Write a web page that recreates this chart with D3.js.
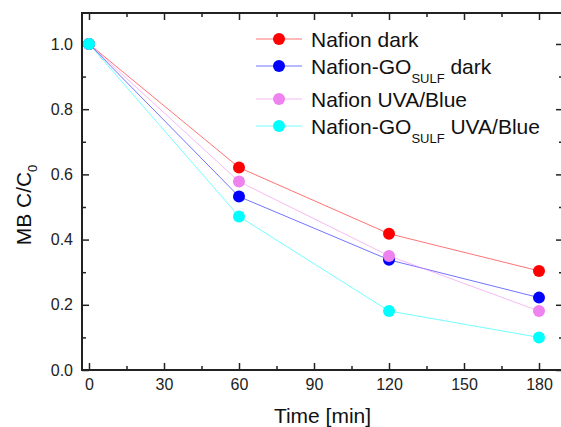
<!DOCTYPE html>
<html lang="en">
<head>
    <meta charset="UTF-8">
    <title>MB C/C0 vs time</title>
    <style>
        body { margin: 0; background: #fff; }
        svg { display: block; font-family: 'Liberation Sans', Arial, sans-serif; }
        .tick text { font-size: 16px; fill: #222; }
        .tick line { stroke: #222; stroke-width: 1.5px; }
        .frame { fill: none; stroke: #222; stroke-width: 2px; }
        .series-line { fill: none; stroke-width: 1px; stroke-opacity: 0.55; }
    </style>
</head>
<body>
<svg id="chart" width="561" height="427"></svg>
<script src="https://cdn.jsdelivr.net/npm/d3@7"></script>
<script>
// data
var times = [0, 60, 120, 180];
var nafionDark = [1.0, 0.621, 0.418, 0.304];
var nafionGoDark = [1.0, 0.532, 0.338, 0.222];
var nafionUva = [1.0, 0.578, 0.350, 0.181];
var nafionGoUva = [1.0, 0.471, 0.181, 0.100];
var xTicks = [0, 30, 60, 90, 120, 150, 180];
var yTicks = [0.0, 0.2, 0.4, 0.6, 0.8, 1.0];

var series = [
    { name: 'Nafion', sub: '', tail: ' dark', color: '#ff0000', values: nafionDark },
    { name: 'Nafion-GO', sub: 'SULF', tail: ' dark', color: '#0000ff', values: nafionGoDark },
    { name: 'Nafion', sub: '', tail: ' UVA/Blue', color: '#ee82ee', values: nafionUva },
    { name: 'Nafion-GO', sub: 'SULF', tail: ' UVA/Blue', color: '#00ffff', values: nafionGoUva }
];

var pLeft = 82, pRight = 563, pTop = 13, pBottom = 370;

var svg = d3.select('#chart');

var x = d3.scaleLinear().domain([-2.8, 189.6]).range([pLeft, pRight]);
var y = d3.scaleLinear().domain([0, 1.095]).range([pBottom, pTop]);

var xMinor = d3.range(0, 181, 15).filter(d => xTicks.indexOf(d) < 0);
var yMinor = [0.1, 0.3, 0.5, 0.7, 0.9];

function noDomain(g) { g.select('.domain').remove(); }

// bottom ticks + labels (inward)
svg.append('g')
    .attr('transform', 'translate(0,' + pBottom + ')')
    .call(d3.axisBottom(x).tickValues(xTicks).tickSize(-7).tickPadding(9).tickFormat(d3.format('d')))
    .call(noDomain);
svg.append('g')
    .attr('transform', 'translate(0,' + pBottom + ')')
    .call(d3.axisBottom(x).tickValues(xMinor).tickSize(-4).tickFormat(''))
    .call(noDomain);

// top ticks
svg.append('g')
    .attr('transform', 'translate(0,' + pTop + ')')
    .call(d3.axisTop(x).tickValues(xTicks).tickSize(-7).tickFormat(''))
    .call(noDomain);
svg.append('g')
    .attr('transform', 'translate(0,' + pTop + ')')
    .call(d3.axisTop(x).tickValues(xMinor).tickSize(-4).tickFormat(''))
    .call(noDomain);

// left ticks + labels
svg.append('g')
    .attr('transform', 'translate(' + pLeft + ',0)')
    .call(d3.axisLeft(y).tickValues(yTicks).tickSize(-7).tickPadding(9).tickFormat(d3.format('.1f')))
    .call(noDomain);
svg.append('g')
    .attr('transform', 'translate(' + pLeft + ',0)')
    .call(d3.axisLeft(y).tickValues(yMinor).tickSize(-4).tickFormat(''))
    .call(noDomain);

// right ticks
svg.append('g')
    .attr('transform', 'translate(' + pRight + ',0)')
    .call(d3.axisRight(y).tickValues(yTicks).tickSize(-7).tickFormat(''))
    .call(noDomain);
svg.append('g')
    .attr('transform', 'translate(' + pRight + ',0)')
    .call(d3.axisRight(y).tickValues(yMinor).tickSize(-4).tickFormat(''))
    .call(noDomain);

svg.append('rect').attr('class', 'frame')
    .attr('x', pLeft).attr('y', pTop)
    .attr('width', pRight - pLeft).attr('height', pBottom - pTop);

// lines first, then markers on top
var line = d3.line().x((d, i) => x(times[i])).y(d => y(d));
series.forEach(s => {
    svg.append('path').attr('class', 'series-line')
        .attr('stroke', s.color)
        .attr('d', line(s.values));
});
series.forEach(s => {
    svg.append('g').selectAll('circle')
        .data(s.values)
        .join('circle')
        .attr('cx', (d, i) => x(times[i]))
        .attr('cy', d => y(d))
        .attr('r', 6)
        .attr('fill', s.color);
});

// legend
var legendRows = [39, 66, 99, 126];
series.forEach((s, i) => {
    var g = svg.append('g').attr('transform', 'translate(0,' + legendRows[i] + ')');
    g.append('line').attr('x1', 256).attr('x2', 302).attr('y1', 0).attr('y2', 0)
        .attr('stroke', s.color).attr('stroke-opacity', 0.55).attr('stroke-width', 1);
    g.append('circle').attr('cx', 279).attr('cy', 0).attr('r', 6).attr('fill', s.color);
    var t = g.append('text').attr('x', 311).attr('y', 7.5)
        .attr('font-size', 21).attr('fill', '#111');
    t.append('tspan').text(s.name);
    if (s.sub) {
        t.append('tspan').attr('dy', 9).attr('font-size', 13).text(s.sub);
        t.append('tspan').attr('dy', -9).text(s.tail);
    } else {
        t.append('tspan').text(s.tail);
    }
});

// axis titles
svg.append('text')
    .attr('x', (pLeft + pRight) / 2).attr('y', 423)
    .attr('text-anchor', 'middle').attr('font-size', 21).attr('fill', '#111')
    .text('Time [min]');

var yt = svg.append('text')
    .attr('transform', 'translate(31,205) rotate(-90)')
    .attr('text-anchor', 'middle').attr('font-size', 21).attr('fill', '#111');
yt.append('tspan').text('MB C/C');
yt.append('tspan').attr('dy', 6).attr('font-size', 13).text('0');
</script>
</body>
</html>
